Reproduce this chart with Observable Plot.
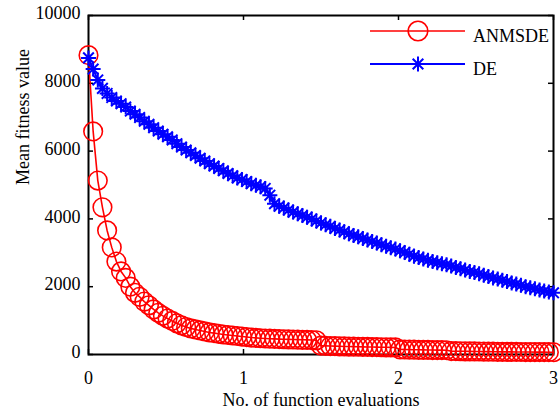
<!DOCTYPE html>
<html>
<head>
<meta charset="utf-8">
<script src="https://cdn.jsdelivr.net/npm/d3@7"></script>
<script src="https://cdn.jsdelivr.net/npm/@observablehq/plot@0.6"></script>
<style>
  html, body { margin: 0; padding: 0; background: #fff; }
  #wrap { position: relative; width: 560px; height: 412px; }
  #wrap svg { position: absolute; left: 0; top: 0; }
</style>
</head>
<body>
<div id="wrap"></div>
<script>
// ---- data ----
const seriesNames = ["ANMSDE", "DE"];
const xTicks = [0, 1, 2, 3];
const yTicks = [0, 2000, 4000, 6000, 8000, 10000];
const xTitle = "No. of function evaluations";
const yTitle = "Mean fitness value";

// ANMSDE mean fitness (101 samples, evenly spaced over 0..3)
const anmsde = [
  8830, 6580, 5130, 4340, 3660, 3160, 2740, 2450, 2260, 2000,
  1820, 1700, 1560, 1450, 1330, 1230, 1140, 1060, 990, 920,
  860, 810, 770, 740, 710, 680, 650, 630, 610, 590,
  575, 560, 545, 530, 515, 500, 490, 480, 472, 466,
  460, 455, 450, 446, 442, 438, 434, 430, 426, 420,
  260, 255, 250, 246, 242, 238, 235, 232, 229, 226,
  223, 220, 217, 214, 212, 210, 208, 150, 147, 144,
  141, 138, 136, 134, 132, 130, 128, 126, 100, 98,
  96, 94, 92, 90, 88, 86, 84, 82, 80, 78,
  77, 76, 75, 74, 73, 72, 71, 70, 69, 68,
  67
];

// DE mean fitness (101 samples, evenly spaced over 0..3)
const de = [
  8750, 8420, 8100, 7850, 7700, 7580, 7480, 7400, 7300, 7180,
  7090, 6990, 6880, 6790, 6690, 6590, 6500, 6420, 6330, 6220,
  6120, 6030, 5950, 5870, 5790, 5710, 5630, 5560, 5490, 5420,
  5340, 5270, 5210, 5160, 5100, 5040, 4990, 4950, 4900, 4700,
  4450, 4370, 4320, 4260, 4200, 4150, 4100, 4050, 4000, 3940,
  3880, 3830, 3780, 3720, 3670, 3620, 3560, 3510, 3470, 3420,
  3380, 3330, 3290, 3240, 3190, 3150, 3110, 3060, 3010, 2960,
  2900, 2860, 2820, 2780, 2740, 2710, 2680, 2650, 2610, 2570,
  2530, 2490, 2450, 2420, 2380, 2340, 2300, 2260, 2230, 2190,
  2150, 2110, 2080, 2040, 2000, 1970, 1940, 1900, 1870, 1840,
  1820
];

const xMax = 3;
const toRows = (vals, name) => vals.map((v, i) => ({evals: i * xMax / (vals.length - 1), value: v, series: name}));
const redRows = toRows(anmsde, seriesNames[0]);
const blueRows = toRows(de, seriesNames[1]);

// MATLAB-style 8-armed asterisk marker
const matlabAsterisk = {
  draw(ctx, size) {
    const r = Math.sqrt(size / Math.PI);
    const d = r * Math.SQRT1_2;
    ctx.moveTo(0, -r); ctx.lineTo(0, r);
    ctx.moveTo(-r, 0); ctx.lineTo(r, 0);
    ctx.moveTo(-d, -d); ctx.lineTo(d, d);
    ctx.moveTo(-d, d); ctx.lineTo(d, -d);
  }
};

const RED = "#ff0000", BLUE = "#0000ff";
const W = 560, H = 412, mL = 88, mR = 7, mT = 15, mB = 58;
const frameW = W - mL - mR, frameH = H - mT - mB, tickLen = 5;
const starR = 7.5;

const chart = Plot.plot({
  width: W, height: H,
  marginLeft: mL, marginRight: mR, marginTop: mT, marginBottom: mB,
  x: {domain: [0, xMax]},
  y: {domain: [0, 10000]},
  style: {fontFamily: "'Liberation Serif', 'Times New Roman', serif", fontSize: "18px", background: "white", color: "black", overflow: "visible"},
  marks: [
    Plot.frame({stroke: "black", strokeWidth: 2}),
    Plot.tickX(xTicks, {x: d => d, insetTop: frameH - tickLen, stroke: "black", strokeWidth: 1.5}),
    Plot.tickX(xTicks, {x: d => d, insetBottom: frameH - tickLen, stroke: "black", strokeWidth: 1.5}),
    Plot.tickY(yTicks, {y: d => d, insetRight: frameW - tickLen, stroke: "black", strokeWidth: 1.5}),
    Plot.tickY(yTicks, {y: d => d, insetLeft: frameW - tickLen, stroke: "black", strokeWidth: 1.5}),
    Plot.axisX({ticks: xTicks, tickSize: 0, tickPadding: 17, label: null, tickFormat: d => String(d)}),
    Plot.axisY({ticks: yTicks, tickSize: 0, tickPadding: 8, dy: -2, label: null, tickFormat: d => String(d)}),
    Plot.text([xTitle], {text: d => d, frameAnchor: "bottom", dy: 51, lineAnchor: "bottom"}),
    Plot.text([yTitle], {text: d => d, frameAnchor: "left", dx: -60, rotate: -90, lineAnchor: "bottom"}),
    Plot.line(redRows, {x: "evals", y: "value", stroke: RED, strokeWidth: 1.6}),
    Plot.dot(redRows, {x: "evals", y: "value", r: 9.3, stroke: RED, strokeWidth: 1.6, fill: "none"}),
    Plot.line(blueRows, {x: "evals", y: "value", stroke: BLUE, strokeWidth: 2}),
    Plot.dot(blueRows, {x: "evals", y: "value", r: starR, symbol: matlabAsterisk, stroke: BLUE, strokeWidth: 2, fill: "none"})
  ]
});
const wrap = document.getElementById("wrap");
wrap.appendChild(chart);

// legend overlay (MATLAB-style, no box)
const ns = "http://www.w3.org/2000/svg";
const leg = document.createElementNS(ns, "svg");
leg.setAttribute("width", W); leg.setAttribute("height", H);
leg.style.pointerEvents = "none";
leg.style.fontFamily = "'Liberation Serif', 'Times New Roman', serif";
leg.style.fontSize = "18px";
const legItems = [
  {name: seriesNames[0], color: RED, y: 31, marker: "circle", w: 1.6},
  {name: seriesNames[1], color: BLUE, y: 64, marker: "asterisk", w: 2}
];
for (const it of legItems) {
  const ln = document.createElementNS(ns, "line");
  ln.setAttribute("x1", 370); ln.setAttribute("x2", 465);
  ln.setAttribute("y1", it.y); ln.setAttribute("y2", it.y);
  ln.setAttribute("stroke", it.color); ln.setAttribute("stroke-width", it.w);
  leg.appendChild(ln);
  const p = document.createElementNS(ns, "path");
  const path = d3.path();
  if (it.marker === "circle") {
    path.moveTo(9.8, 0); path.arc(0, 0, 9.8, 0, 2 * Math.PI);
  } else {
    matlabAsterisk.draw(path, starR * starR * Math.PI);
  }
  p.setAttribute("d", path.toString());
  p.setAttribute("transform", `translate(418,${it.y})`);
  p.setAttribute("fill", "none"); p.setAttribute("stroke", it.color); p.setAttribute("stroke-width", it.w);
  leg.appendChild(p);
  const t = document.createElementNS(ns, "text");
  t.setAttribute("x", 473); t.setAttribute("y", it.y + 11);
  t.setAttribute("fill", "black");
  t.textContent = it.name;
  leg.appendChild(t);
}
wrap.appendChild(leg);
</script>
</body>
</html>
